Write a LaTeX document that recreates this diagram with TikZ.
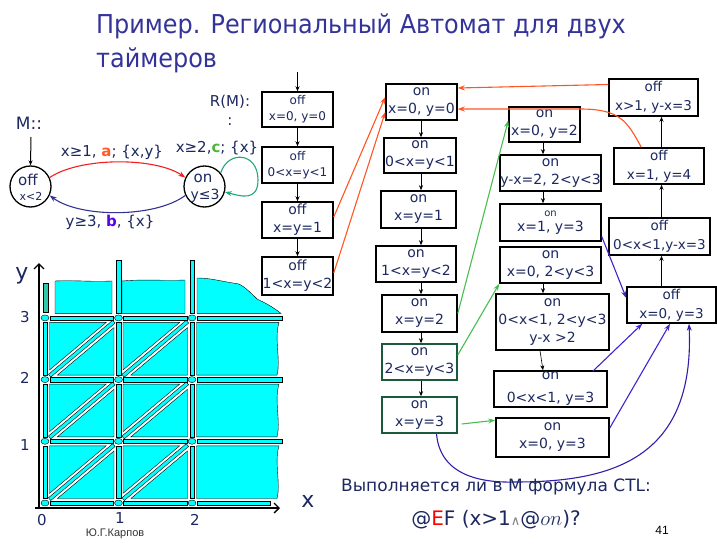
\documentclass[tikz,border=0pt]{standalone}
\usepackage{fontspec}
\setmainfont{DejaVu Sans}
\newfontfamily\titlefont[FakeStretch=0.92]{DejaVu Sans}
\newfontfamily\smallfont{Liberation Sans}
\usetikzlibrary{arrows.meta,calc}
\definecolor{navy}{RGB}{28,40,95}
\definecolor{titleblue}{RGB}{51,51,153}
\definecolor{orr}{RGB}{255,85,35}
\definecolor{grn}{RGB}{70,190,80}
\definecolor{dgreen}{RGB}{25,90,60}
\definecolor{blu}{RGB}{65,35,210}
\definecolor{cy}{RGB}{0,255,255}
\definecolor{teal2}{RGB}{50,200,170}
\definecolor{loopg}{RGB}{30,170,120}
\definecolor{mred}{RGB}{240,30,30}
\definecolor{mblue}{RGB}{50,50,150}
\definecolor{aorange}{RGB}{255,90,40}
\definecolor{cgreen}{RGB}{80,180,60}
\definecolor{bpurple}{RGB}{90,0,230}
\begin{document}
\begin{tikzpicture}[x=1pt,y=-1pt,
  box/.style={draw=black,line width=1.5pt,inner sep=0pt,align=center,text=navy},
  gbox/.style={box,draw=dgreen},
  fa/.style={font=\fontsize{12}{16}\selectfont},
  fb/.style={font=\fontsize{14}{18}\selectfont},
  fc/.style={font=\fontsize{13.5}{19}\selectfont},
  arr/.style={-{Stealth[length=5pt,width=4pt]},line width=0.6pt},
  carr/.style={-{Stealth[length=7pt,width=5pt]},line width=1.1pt},
  lbl/.style={text=navy,inner sep=0pt},
  gr/.style={fill=cy,draw=black,line width=0.4pt},
  st/.style={circle,draw=black,line width=1.3pt,minimum size=41pt,inner sep=0pt}
]
\useasboundingbox (0,0) rectangle (717,548);

% title
\node[anchor=base west,text=titleblue,inner sep=0pt,font=\titlefont\fontsize{26}{30}\selectfont] (t1) at (96,34) {Пример. Региональный Автомат для двух};
\node[anchor=base west,text=titleblue,inner sep=0pt,font=\titlefont\fontsize{26}{30}\selectfont] (t2) at (96,68) {таймеров};

% automaton M
\node[lbl,font=\fontsize{17}{20}\selectfont] (Mlab) at (29,123) {M::};
\node[st] (offc) at (30.5,186.5) {};
\node[st] (onc) at (204.5,186.5) {};
\node[lbl,font=\fontsize{15}{18}\selectfont] (offt) at (28,180) {off};
\node[lbl,font=\fontsize{11}{13}\selectfont] (offi) at (31,196) {x<2};
\node[lbl,font=\fontsize{15}{18}\selectfont] (ont) at (203,178) {on};
\node[lbl,font=\fontsize{14}{17}\selectfont] (oni) at (205,196) {y≤3};
\coordinate (Mtop) at (31,137);
\draw[arr,line width=1pt] (Mtop) -- (offc.north);
\draw[carr,draw=mred] (offc.25) .. controls (80,157) and (155,157) .. (onc.155);
\draw[carr,draw=mblue] (onc.205) .. controls (155,218) and (80,218) .. (offc.-25);
\draw[carr,draw=loopg] (onc.40) .. controls (228,150) and (258,152) .. (258,180) .. controls (258,202) and (240,196) .. (onc.-15);
\node[lbl,font=\fontsize{15}{18}\selectfont] (la) at (112,152) {x≥1, \textbf{\color{aorange}a}; \{x,y\}};
\node[lbl,font=\fontsize{15}{18}\selectfont] (lb) at (110,222) {y≥3, \textbf{\color{bpurple}b}, \{x\}};
\node[lbl,font=\fontsize{15}{18}\selectfont] (lc) at (217,148) {x≥2,\textbf{\color{cgreen}c}; \{x\}};
\node[lbl,font=\fontsize{15}{18}\selectfont] (rm) at (230,102) {R(M):};
\node[lbl,font=\fontsize{15}{18}\selectfont] (rm2) at (230,122) {:};

% column 1
\node[box,fa,minimum width=71pt,minimum height=35pt] (B1) at (297.5,109.5) {off\\x=0, y=0};
\node[box,fa,minimum width=71pt,minimum height=36pt] (B2) at (297.5,165) {off\\0<x=y<1};
\node[box,fb,minimum width=71pt,minimum height=36pt] (B3) at (297.5,220) {off\\x=y=1};
\node[box,fb,minimum width=71pt,minimum height=38pt] (B4) at (297.5,276) {off\\1<x=y<2};
\coordinate (Btop) at (297.5,72);
\draw[arr] (Btop) -- (B1.north);
\draw[arr] (B1) -- (B2);
\draw[arr] (B2) -- (B3);
\draw[arr] (B3) -- (B4);

% column 2
\node[box,fb,minimum width=71pt,minimum height=36pt] (C1) at (421.5,102) {on\\x=0, y=0};
\node[box,fb,minimum width=72pt,minimum height=35pt] (C2) at (420,155.5) {on\\0<x=y<1};
\node[box,fb,minimum width=75pt,minimum height=37pt] (C3) at (418.5,209.5) {on\\x=y=1};
\node[box,fb,minimum width=80pt,minimum height=36pt] (C4) at (416,264) {on\\1<x=y<2};
\node[box,fb,minimum width=75pt,minimum height=37pt] (C5) at (419.5,313.5) {on\\x=y=2};
\node[gbox,fb,minimum width=75pt,minimum height=36pt] (C6) at (419.5,362) {on\\2<x=y<3};
\node[gbox,fb,minimum width=75pt,minimum height=36pt] (C7) at (419.5,415) {on\\x=y=3};
\coordinate (cx2) at (421,0);
\draw[arr] (C1.south -| cx2) -- (C2.north -| cx2);
\draw[arr] (C2.south -| cx2) -- (C3.north -| cx2);
\draw[arr] (C3.south -| cx2) -- (C4.north -| cx2);
\draw[arr] (C4.south -| cx2) -- (C5.north -| cx2);
\draw[arr] (C5.south -| cx2) -- (C6.north -| cx2);
\draw[arr] (C6.south -| cx2) -- (C7.north -| cx2);

% column 3
\node[box,fb,minimum width=71pt,minimum height=35pt] (D1) at (544.5,124.5) {on\\x=0, y=2};
\node[box,fb,minimum width=101pt,minimum height=36pt] (D2) at (550.5,173) {on\\y-x=2, 2<y<3};
\node[box,minimum width=101pt,minimum height=37pt] (D3) at (550.5,222.5) {\fontsize{10}{12}\selectfont on\\[3pt]\fontsize{14}{18}\selectfont x=1, y=3};
\node[box,fb,minimum width=101pt,minimum height=36pt] (D4) at (550.5,265) {on\\x=0, 2<y<3};
\node[box,fb,minimum width=113pt,minimum height=56pt] (D5) at (552.5,322) {on\\0<x<1, 2<y<3\\y-x >2};
\node[box,fb,minimum width=113pt,minimum height=36pt] (D6) at (550.5,389) {on\\[5pt]0<x<1, y=3};
\node[box,fb,minimum width=113pt,minimum height=39pt] (D7) at (552.5,437.5) {on\\x=0, y=3};
\coordinate (cx3) at (543,0);
\draw[arr] (D1.south -| cx3) -- (D2.north -| cx3);
\draw[arr] (D2.south -| cx3) -- (D3.north -| cx3);
\draw[arr] (D4.south -| cx3) -- (D5.north -| cx3);
\draw[arr] ($(D5.south)+(-12.5,0)$) -- ($(D6.north)+(-7.5,0)$);

% column 4
\node[box,fc,minimum width=89pt,minimum height=37pt] (E1) at (653.5,97.5) {off\\x>1, y-x=3};
\node[box,fc,minimum width=90pt,minimum height=36pt] (E2) at (659,166) {off\\x=1, y=4};
\node[box,fc,minimum width=101pt,minimum height=37pt] (E3) at (659.5,236.5) {off\\0<x<1,y-x=3};
\node[box,fc,minimum width=89pt,minimum height=36pt] (E4) at (671.5,305) {off\\x=0, y=3};
\coordinate (cx4) at (661.5,0);
\draw[arr,line width=1pt] (E4.north -| cx4) -- (E3.south -| cx4);
\draw[arr,line width=1pt] (E3.north -| cx4) -- (E2.south -| cx4);
\draw[arr,line width=1pt] (E2.north -| cx4) -- (E1.south -| cx4);

% orange connectors
\draw[carr,draw=orr] ($(B3.east)+(0,-3)$) -- ($(C1.west)+(0,-5)$);
\draw[carr,draw=orr] ($(B4.east)+(0,-3)$) -- ($(C1.west)+(0,10)$);
\draw[carr,draw=orr] ($(E1.west)+(0,-13)$) -- ($(C1.east)+(0,-14)$);
\coordinate (o1) at (580,109);
\draw[carr,draw=orr] ($(E2.north west)+(28,0)$) .. controls +(-14,-26) and +(40,0) .. (o1) -- ($(C1.east)+(0,7)$);

% green connectors
\draw[carr,draw=grn] ($(C5.east)+(0,0)$) -- ($(D1.west)+(0,-4)$);
\draw[carr,draw=grn] ($(C6.east)+(0,-7)$) -- ($(D4.south west)+(0,0)$);
\draw[carr,draw=grn] ($(C7.east)+(4,9)$) -- ($(D7.north west)+(0,3)$);

% blue connectors
\draw[carr,draw=blu] ($(D3.east)+(0,14)$) -- ($(E4.west)+(0,-7)$);
\draw[carr,draw=blu] ($(D6.north east)+(-15,1)$) -- ($(E4.south west)+(16,0)$);
\draw[carr,draw=blu] ($(D7.east)+(0,-9.5)$) -- ($(E4.south)+(-1.5,0)$);
\coordinate (bl1) at (515,482);
\draw[carr,draw=blu!80!black] ($(C7.south)+(17,0)$) .. controls (440,475) and (480,483) .. (bl1) .. controls (610,482) and (695,460) .. ($(E4.south)+(17.5,0)$);

% region grid
\begin{scope}[xshift=45pt,yshift=-503pt,x=1pt,y=1pt]
  \draw[line width=1.3pt,-{Straight Barb[length=5pt,width=10pt]}] (-10,-5) -- (235,-5);
  \draw[line width=1.3pt,-{Straight Barb[length=5pt,width=10pt]}] (-6,-5) -- (-6,240);
  \foreach \i in {0,1}{\foreach \j in {0,1,2}{
    \begin{scope}[shift={(\i*73.5,\j*61.7)}]
      \draw[gr] (4.5,57.2) -- (61.2,57.2) -- (4.5,9.65) -- cycle;
      \draw[gr] (69,4.5) -- (69,52) -- (12.36,4.5) -- cycle;
      \draw[gr] (5.76,2.48) -- (70.1,56.5) -- (67.7,59.3) -- (3.44,5.24) -- cycle;
    \end{scope}}}
  \foreach \j in {0,1,2}{
    \draw[gr] (151.5,\j*61.7+4.5) -- (232,\j*61.7+4.5) .. controls (236,\j*61.7+20) and (229,\j*61.7+40) .. (234,\j*61.7+57.2) -- (151.5,\j*61.7+57.2) -- cycle;}
  \draw[gr] (10,189.6) -- (67,189.6) -- (67,222) .. controls (45,221) and (30,223) .. (10,222) -- cycle;
  \draw[gr] (77,189.6) -- (140,189.6) -- (140,223) .. controls (120,222) and (100,224) .. (77,222) -- cycle;
  \draw[gr] (152,189.6) -- (236,189.6) .. controls (225,198) and (220,200) .. (212,204) .. controls (200,216) and (195,220) .. (188,220) .. controls (175,222) and (165,225) .. (152,225) -- cycle;
  \foreach \j in {0,1,2,3}{\foreach \i in {0,1}{
    \draw[gr] (\i*73.5+5,\j*61.7-2.2) rectangle (\i*73.5+68.5,\j*61.7+2.2);}}
  \foreach \j in {1,2,3}{\draw[gr] (152,\j*61.7-2.2) rectangle (237,\j*61.7+2.2);}
  \draw[gr] (152,-2.2) rectangle (225,2.2);
  \foreach \i in {0,1,2}{\foreach \j in {0,1,2}{
    \draw[gr] (\i*73.5-2.2,\j*61.7+4.5) rectangle (\i*73.5+2.2,\j*61.7+57.2);}}
  \foreach \i in {1,2}{\draw[gr] (\i*73.5-2.2,189.6) rectangle (\i*73.5+2.2,243);}
  \draw[fill=teal2,draw=black,line width=0.3pt] (-2,191) rectangle (3,220);
  \foreach \i in {0,1,2}{\foreach \j in {0,1,2,3}{
    \draw[gr] (\i*73.5,\j*61.7) ellipse [x radius=4, y radius=3];}}
\end{scope}
\node[lbl,font=\fontsize{22}{24}\selectfont] (ylab) at (22,276) {y};
\node[lbl,font=\fontsize{22}{24}\selectfont] (xlab) at (308,501) {x};
\node[lbl,font=\fontsize{15}{18}\selectfont] (y3) at (25,317) {3};
\node[lbl,font=\fontsize{15}{18}\selectfont] (y2) at (25,378) {2};
\node[lbl,font=\fontsize{15}{18}\selectfont] (y1) at (25,445) {1};
\node[lbl,font=\fontsize{15}{18}\selectfont] (x0) at (42,520) {0};
\node[lbl,font=\fontsize{15}{18}\selectfont] (x1) at (120,518) {1};
\node[lbl,font=\fontsize{15}{18}\selectfont] (x2) at (195,520) {2};

% bottom texts
\node[lbl,font=\fontsize{17}{20}\selectfont] (q1) at (496,487) {Выполняется ли в М формула CTL:};
\node[lbl,font=\fontsize{20}{24}\selectfont] (q2) at (496,520) {@{\color{red}E}F (x>1{\color{gray}\fontsize{13}{14}\selectfont ∧}@$on$)?};
\node[inner sep=0pt,text=black!80,font=\smallfont\fontsize{11}{13}\selectfont] (auth) at (115,534) {Ю.Г.Карпов};
\node[inner sep=0pt,text=black,font=\smallfont\fontsize{12}{14}\selectfont] (pg) at (662,530) {41};
\end{tikzpicture}
\end{document}
